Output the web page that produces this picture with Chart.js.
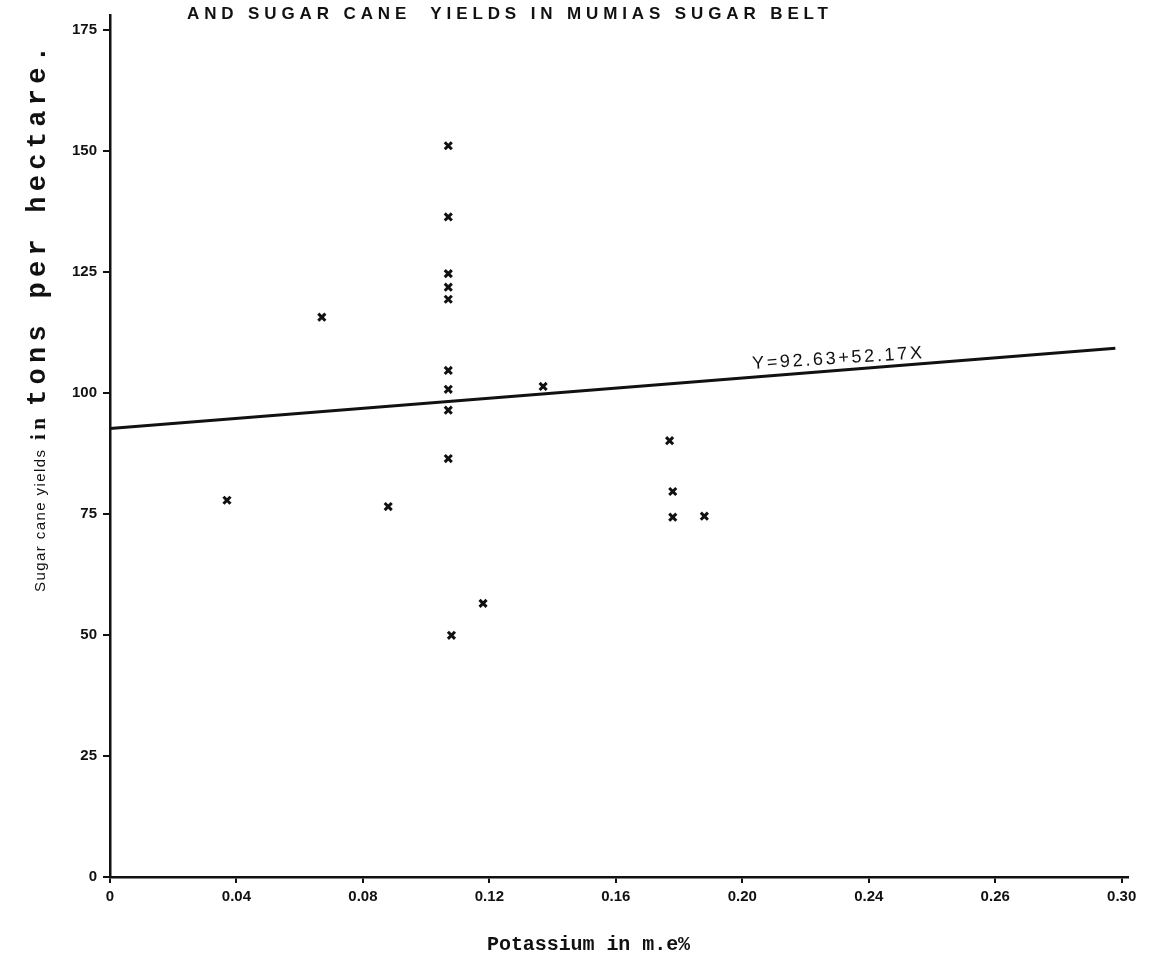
<!DOCTYPE html>
<html>
<head>
<meta charset="utf-8">
<script src="https://cdn.jsdelivr.net/npm/chart.js@4.4.0/dist/chart.umd.min.js"></script>
<style>
html,body{margin:0;padding:0;background:#fff;}
#wrap{position:relative;width:1151px;height:969px;}
</style>
</head>
<body>
<div id="wrap"><canvas id="chart"></canvas></div>
<script>
// potassium (m.e%) against cane yield (tons/ha)
const potassium = [0.037, 0.067, 0.088, 0.107, 0.107, 0.107, 0.107, 0.107, 0.107, 0.107, 0.107, 0.107, 0.108, 0.118, 0.137, 0.177, 0.178, 0.178, 0.188];
const caneYield = [77.8, 115.6, 76.5, 151.0, 136.3, 124.6, 121.8, 119.3, 104.6, 100.7, 96.4, 86.4, 49.9, 56.5, 101.3, 90.1, 79.6, 74.3, 74.5];

// regression line end points, Y = 92.63 + 52.17X
const fitX = [0, 0.318];
const fitY = [92.63, 109.2];

// the scan labels its equally spaced ticks like this (0.26 sic)
const xTickLabels = ['0', '0.04', '0.08', '0.12', '0.16', '0.20', '0.24', '0.26', '0.30'];

const titleText = 'AND SUGAR CANE  YIELDS IN MUMIAS SUGAR BELT';
const fitLabel = 'Y=92.63+52.17X';
const xTitle = 'Potassium in m.e%';
const yTitleParts = ['Sugar cane yields', 'in', 'tons per hectare.'];

const INK = '#111';
Chart.defaults.font.family = '"Liberation Sans", Arial, sans-serif';
Chart.defaults.color = INK;

// draw text left-aligned, stretched with letter spacing to a given width
function spreadText(ctx, txt, x, y, width, font){
  ctx.font = font;
  ctx.letterSpacing = '0px';
  const w = ctx.measureText(txt).width;
  const ls = txt.length > 1 ? (width - w) / (txt.length - 1) : 0;
  ctx.letterSpacing = ls.toFixed(2) + 'px';
  ctx.fillText(txt, x, y);
  ctx.letterSpacing = '0px';
}

const textLayer = {
  id: 'textLayer',
  afterDraw(c){
    const ctx = c.ctx, xs = c.scales.x, ys = c.scales.y;
    ctx.save();
    ctx.fillStyle = INK;
    ctx.textAlign = 'left';
    ctx.textBaseline = 'alphabetic';

    // cut-off title at the top of the page
    spreadText(ctx, titleText, 187, 19, 641, 'bold 17px "Liberation Sans"');

    // x axis title
    spreadText(ctx, xTitle, 487, 950, 203, 'bold 20px "Liberation Mono"');

    // y axis title, mixed type like the original
    ctx.save();
    ctx.translate(45, 592);
    ctx.rotate(-Math.PI / 2);
    spreadText(ctx, yTitleParts[0], 0, 0, 142, '15px "Liberation Sans"');
    spreadText(ctx, yTitleParts[1], 152, 0, 22, 'bold 21px "Liberation Serif"');
    spreadText(ctx, yTitleParts[2], 186, 0, 360, 'bold 27px "Liberation Mono"');
    ctx.restore();

    // equation written along the fitted line
    const x0 = xs.getPixelForValue(fitX[0]), y0 = ys.getPixelForValue(fitY[0]);
    const x1 = xs.getPixelForValue(fitX[1]), y1 = ys.getPixelForValue(fitY[1]);
    const ang = Math.atan2(y1 - y0, x1 - x0);
    const lx = 753, ly = y0 + (y1 - y0) * (lx - x0) / (x1 - x0);
    ctx.save();
    ctx.translate(lx, ly);
    ctx.rotate(ang * 0.8);
    spreadText(ctx, fitLabel, 0, -8, 170, '18px "Liberation Sans"');
    ctx.restore();
    ctx.restore();
  }
};

const ctx = document.getElementById('chart').getContext('2d');
new Chart(ctx, {
  type: 'scatter',
  data: {
    datasets: [
      {
        label: 'plots',
        data: potassium.map((k, i) => ({x: k, y: caneYield[i]})),
        pointStyle: 'crossRot',
        pointRadius: 5,
        borderWidth: 3,
        borderColor: INK,
        backgroundColor: INK
      },
      {
        label: 'fit',
        data: fitX.map((k, i) => ({x: k, y: fitY[i]})),
        showLine: true,
        pointRadius: 0,
        borderWidth: 3,
        borderColor: INK
      }
    ]
  },
  options: {
    responsive: true,
    maintainAspectRatio: false,
    animation: false,
    layout: {padding: {left: 0, top: 7, right: 23, bottom: 0}},
    plugins: {legend: {display: false}, tooltip: {enabled: false}},
    scales: {
      x: {
        type: 'linear', min: 0, max: 0.322,
        ticks: {
          stepSize: 0.04, includeBounds: false, autoSkip: false, maxRotation: 0, padding: 5,
          font: {size: 15, weight: 'bold'},
          callback: v => xTickLabels[Math.round(v / 0.04)] ?? ''
        },
        grid: {drawOnChartArea: false, drawTicks: true, tickLength: 6, color: INK, lineWidth: 2},
        border: {display: true, color: INK, width: 2.5},
        afterFit(s){ s.height = 92; }
      },
      y: {
        type: 'linear', min: 0, max: 178,
        ticks: {stepSize: 25, includeBounds: false, padding: 6, font: {size: 15, weight: 'bold'}},
        grid: {drawOnChartArea: false, drawTicks: true, tickLength: 7, color: INK, lineWidth: 2},
        border: {display: true, color: INK, width: 2.5},
        afterFit(s){ s.width = 110; }
      }
    }
  },
  plugins: [textLayer]
});
</script>
</body>
</html>
